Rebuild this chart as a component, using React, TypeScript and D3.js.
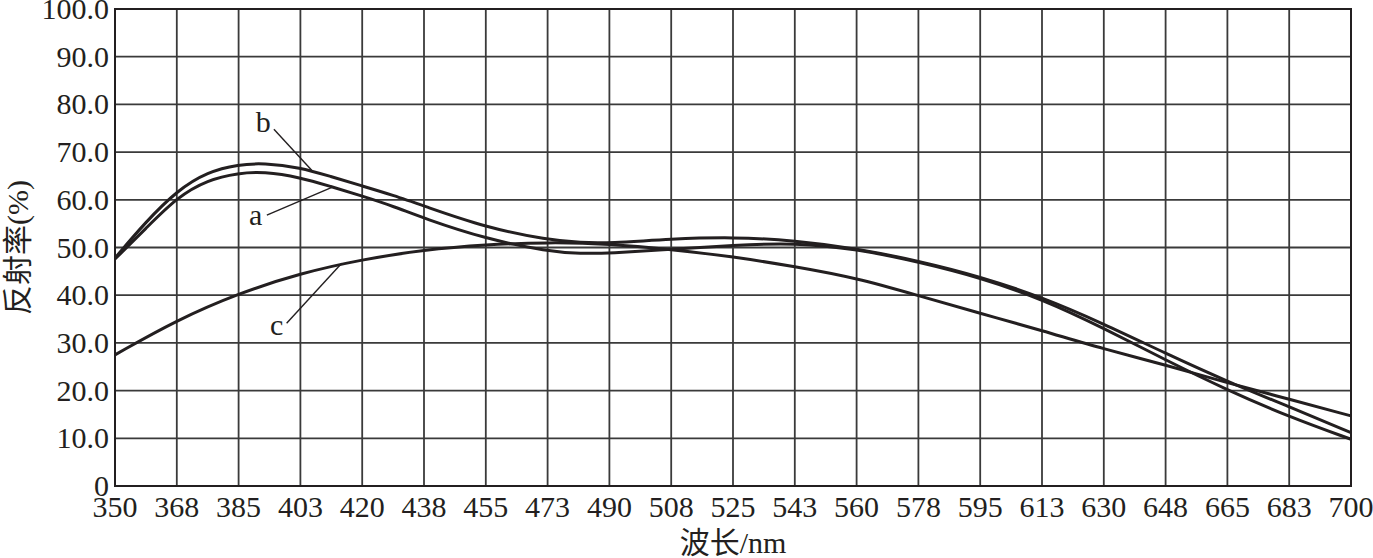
import React from "react";
import * as d3 from "d3";

// wavelengths (nm) at which curves a and b were read
const wl = [350, 358.75, 367.5, 376.25, 385, 392, 402.5, 411, 420, 429, 437.5, 455, 472.5, 482, 490, 507.5, 525, 542.5, 560, 577.5, 595, 612.5, 630, 647.5, 665, 682.5, 700];
const seriesA = [47.6, 54.0, 60.5, 64.2, 65.6, 65.9, 64.7, 62.8, 60.8, 58.6, 56.1, 51.8, 49.2, 48.7, 48.8, 49.6, 50.5, 51.0, 49.7, 47.0, 43.7, 39.2, 33.1, 26.4, 20.1, 14.5, 9.8];
const seriesB = [47.8, 55.4, 61.9, 65.9, 67.4, 67.7, 66.8, 64.9, 62.9, 60.9, 58.7, 54.2, 51.6, 51.0, 50.9, 51.8, 52.2, 51.5, 49.8, 47.2, 43.9, 39.6, 34.0, 27.8, 21.9, 16.6, 11.2];
// wavelengths (nm) at which curve c was read
const cWl = [350, 367.5, 385, 402.5, 420, 437.5, 455, 472.5, 490, 507.5, 525, 542.5, 560, 577.5, 595, 612.5, 630, 647.5, 665, 682.5, 700];
const seriesC = [27.5, 34.8, 40.4, 44.6, 47.5, 49.5, 50.6, 51.1, 50.8, 49.6, 48.1, 46.0, 43.6, 39.9, 36.2, 32.6, 28.7, 25.4, 21.6, 18.2, 14.7];

const xTickLabels = ["350", "368", "385", "403", "420", "438", "455", "473", "490", "508", "525", "543", "560", "578", "595", "613", "630", "648", "665", "683", "700"];
const yTickValues = [0, 10, 20, 30, 40, 50, 60, 70, 80, 90, 100];
const yTickLabels = ["0", "10.0", "20.0", "30.0", "40.0", "50.0", "60.0", "70.0", "80.0", "90.0", "100.0"];

// annotation labels: [name, textNm, textVal, lineStartNm, lineStartVal, lineEndNm, lineEndVal]
const annotations: [string, number, number, number, number, number, number][] = [
  ["b", 392, 74.3, 395, 74.8, 405.7, 66.2],
  ["a", 389.8, 54.7, 393, 56.8, 411.4, 62.6],
  ["c", 395.8, 31.7, 398.6, 34.1, 414.2, 46.7],
];

const W = 1373;
const H = 558;
const margin = { left: 115, right: 22, top: 9, bottom: 72 };
const FONT = "'Liberation Serif', 'Times New Roman', 'Noto Sans CJK SC', serif";

export default function App() {
  const x = d3.scaleLinear().domain([350, 700]).range([margin.left, W - margin.right]);
  const y = d3.scaleLinear().domain([0, 100]).range([H - margin.bottom, margin.top]);
  const xTicks = xTickLabels.map((_, i) => 350 + 17.5 * i);

  const line = d3
    .line<[number, number]>()
    .x((d) => x(d[0]))
    .y((d) => y(d[1]))
    .curve(d3.curveBasis);

  const pa = line(wl.map((w, i) => [w, seriesA[i]] as [number, number])) || "";
  const pb = line(wl.map((w, i) => [w, seriesB[i]] as [number, number])) || "";
  const pc = line(cWl.map((w, i) => [w, seriesC[i]] as [number, number])) || "";

  const gridColor = "#3a3a3a";
  const ink = "#231f20";

  return (
    <svg width={W} height={H} style={{ position: "absolute", left: 0, top: 0, background: "#fff" }}>
      <rect x={0} y={0} width={W} height={H} fill="#fff" />
      {/* grid */}
      {xTicks.map((t, i) => (
        <line key={"gx" + i} x1={x(t)} x2={x(t)} y1={y(0)} y2={y(100)} stroke={gridColor} strokeWidth={1.8} />
      ))}
      {yTickValues.map((t, i) => (
        <line key={"gy" + i} x1={x(350)} x2={x(700)} y1={y(t)} y2={y(t)} stroke={gridColor} strokeWidth={1.8} />
      ))}
      <rect x={x(350)} y={y(100)} width={x(700) - x(350)} height={y(0) - y(100)} fill="none" stroke={ink} strokeWidth={2} />

      {/* curves */}
      <path d={pc} fill="none" stroke={ink} strokeWidth={3} />
      <path d={pa} fill="none" stroke={ink} strokeWidth={3} />
      <path d={pb} fill="none" stroke={ink} strokeWidth={3} />

      {/* annotations */}
      {annotations.map(([name, tx, tv, sx, sv, ex, ev]) => (
        <g key={name}>
          <line x1={x(sx)} y1={y(sv)} x2={x(ex)} y2={y(ev)} stroke={ink} strokeWidth={1.4} />
          <text x={x(tx)} y={y(tv)} textAnchor="middle" fontFamily={FONT} fontSize={30} fill={ink}>
            {name}
          </text>
        </g>
      ))}

      {/* x tick labels */}
      {xTicks.map((t, i) => (
        <text key={"xl" + i} x={x(t)} y={517} textAnchor="middle" fontFamily={FONT} fontSize={30} fill={ink}>
          {xTickLabels[i]}
        </text>
      ))}
      {/* y tick labels */}
      {yTickValues.map((t, i) => (
        <text key={"yl" + i} x={109} y={y(t) + 10} textAnchor="end" fontFamily={FONT} fontSize={30} fill={ink}>
          {yTickLabels[i]}
        </text>
      ))}

      {/* axis titles */}
      <text x={(x(350) + x(700)) / 2} y={553} textAnchor="middle" fontFamily={FONT} fontSize={30} fill={ink}>
        波长/nm
      </text>
      <text
        transform={`translate(28, ${(y(0) + y(100)) / 2}) rotate(-90)`}
        textAnchor="middle"
        fontFamily={FONT}
        fontSize={30}
        fill={ink}
      >
        反射率(%)
      </text>
    </svg>
  );
}
